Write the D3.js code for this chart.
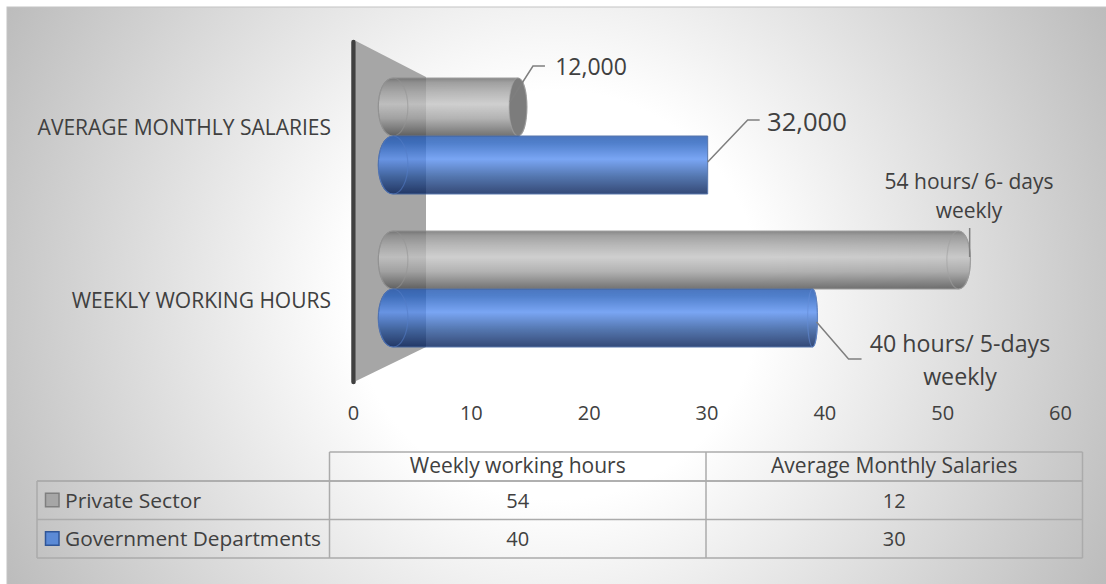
<!DOCTYPE html>
<html>
<head>
<meta charset="utf-8">
<script src="https://cdn.jsdelivr.net/npm/d3@7"></script>
<style>
  html, body { margin: 0; padding: 0; background: #fff; }
  svg { display: block; }
  text { font-family: "Open Sans", sans-serif; fill: #404040; }
</style>
</head>
<body>
<div id="chart"></div>
<script>
// chart data, top to bottom the way the picture stacks it
var categories = ["AVERAGE MONTHLY SALARIES", "WEEKLY WORKING HOURS"];
var tableColumns = ["Average Monthly Salaries", "Weekly working hours"];
var seriesNames = ["Private Sector", "Government Departments"];
var privateValues = [12, 54];
var governmentValues = [30, 40];
// where the 3D bars visibly end on the axis (perspective pushes them off the table values)
var privateDrawn = [14, 51.4];
var governmentDrawn = [30.1, 39];
var barStart = 3.4;
var privateLabels = [["12,000"], ["54 hours/ 6- days", "weekly"]];
var governmentLabels = [["32,000"], ["40 hours/ 5-days", "weekly"]];
var axisTicks = [0, 10, 20, 30, 40, 50, 60];

var width = 1106, height = 584;
var svg = d3.select("#chart").append("svg").attr("width", width).attr("height", height);
var defs = svg.append("defs");

// background
var bg = defs.append("radialGradient").attr("id", "bg")
  .attr("gradientUnits", "userSpaceOnUse")
  .attr("cx", 556).attr("cy", 295).attr("r", 620);
bg.append("stop").attr("offset", 0.33).attr("stop-color", "#ffffff");
bg.append("stop").attr("offset", 1).attr("stop-color", "#bcbcbc");
svg.append("rect").attr("x", 7).attr("y", 7).attr("width", width).attr("height", height)
  .attr("fill", "url(#bg)").attr("stroke", "#c4c4c4");

function barGradient(id, stops) {
  var g = defs.append("linearGradient").attr("id", id)
    .attr("x1", 0).attr("x2", 0).attr("y1", 0).attr("y2", 1);
  stops.forEach(function (s) {
    g.append("stop").attr("offset", s[0]).attr("stop-color", s[1]);
  });
}
barGradient("grayBar", [[0, "#6a6a6a"], [0.08, "#8a8a8a"], [0.25, "#a8a8a8"], [0.45, "#c4c4c4"], [0.7, "#a0a0a0"], [0.9, "#6a6a6a"], [1, "#505050"]]);
barGradient("blueBar", [[0, "#1f55b0"], [0.12, "#2560bf"], [0.4, "#5990f2"], [0.7, "#2a559c"], [0.92, "#0e2c68"], [1, "#001d59"]]);

// scales
var x = d3.scaleLinear().domain([0, 60]).range([353, 1060]);
var y = d3.scaleBand().domain(categories).range([59.5, 365.5]).paddingInner(0.242).paddingOuter(0.121);
var ySub = d3.scaleBand().domain(seriesNames).range([0, y.bandwidth()]);

// back wall and axis line
var wallPts = [[356, 41], [426, 77], [426, 347], [356, 381]];
svg.append("polygon").attr("points", wallPts.join(" ")).attr("fill", "#a6a6a6");
svg.append("line")
  .attr("x1", 353.5).attr("x2", 353.5).attr("y1", 42).attr("y2", 382)
  .attr("stroke", "#404040").attr("stroke-width", 4.5).attr("stroke-linecap", "round");

// axis
var axis = d3.axisBottom(x).tickValues(axisTicks).tickSize(0).tickPadding(0);
var axisG = svg.append("g").attr("transform", "translate(0,406)").call(axis);
axisG.select(".domain").remove();
axisG.selectAll("text").attr("font-size", 20).style("fill", "#404040");
axisG.attr("font-family", null);

// category labels, the 3D view shifts the lower one off its band centre
var catLabelShift = [-1, 19];
svg.selectAll("text.cat").data(categories).enter().append("text")
  .attr("class", "cat")
  .attr("x", 331)
  .attr("y", function (d, i) { return y(d) + y.bandwidth() / 2 + catLabelShift[i]; })
  .attr("text-anchor", "end")
  .attr("font-size", 21)
  .text(function (d) { return d; });

// lens width of the cylinder ends shrinks toward the view point
function lens(px) { return 0.047 * Math.abs(px - x(30.1)); }

function drawBars(name, drawn, gradient, edge, ring, capFill) {
  var g = svg.append("g");
  categories.forEach(function (cat, i) {
    var top = y(cat) + ySub(name);
    var h = ySub.bandwidth();
    var ry = h / 2;
    var xs = x(barStart), xe = x(drawn[i]);
    var rs = lens(xs), re = lens(xe);
    var body = d3.path();
    body.moveTo(xs, top);
    body.lineTo(xe, top);
    if (re > 0.5) {
      body.bezierCurveTo(xe + re * 1.33, top, xe + re * 1.33, top + h, xe, top + h);
    } else {
      body.lineTo(xe, top + h);
    }
    body.lineTo(xs, top + h);
    body.bezierCurveTo(xs - rs * 1.33, top + h, xs - rs * 1.33, top, xs, top);
    body.closePath();
    var bar = g.append("g").attr("opacity", 0.8);
    bar.append("path").attr("d", body.toString())
      .attr("fill", "url(#" + gradient + ")")
      .attr("stroke", edge).attr("stroke-width", 1);
    bar.append("ellipse")
      .attr("cx", xs).attr("cy", top + ry).attr("rx", rs).attr("ry", ry)
      .attr("fill", "none").attr("stroke", ring).attr("stroke-width", 1.2).attr("stroke-opacity", 0.55);
    if (re > 0.5) {
      bar.append("ellipse")
        .attr("cx", xe).attr("cy", top + ry).attr("rx", re).attr("ry", ry)
        .attr("fill", xe < x(30) ? capFill : "none")
        .attr("stroke", ring).attr("stroke-width", 1.2).attr("stroke-opacity", 0.55);
    }
  });
}
drawBars(seriesNames[0], privateDrawn, "grayBar", "#8a8a8a", "#8f8f8f", "#5c5c5c");
drawBars(seriesNames[1], governmentDrawn, "blueBar", "#2f5597", "#3f72d0", "#2f5597");

// data labels with their leader lines, offsets measured from each bar end
var labelLayout = [
  { series: 0, cat: 0, text: privateLabels[0], size: 23, lx: 591, ly: 75, gap: 0,
    leader: [[-8, -5], [15, -41], [27, -41]], key: privateDrawn[0] },
  { series: 1, cat: 0, text: governmentLabels[0], size: 25.6, lx: 807, ly: 131, gap: 0,
    leader: [[0, -3], [40, -45], [52, -45]], key: governmentDrawn[0] },
  { series: 0, cat: 1, text: privateLabels[1], size: 21, lx: 969, ly: 189, gap: 29,
    leader: [[11, -32], [11, -3]], key: privateDrawn[1] },
  { series: 1, cat: 1, text: governmentLabels[1], size: 23.2, lx: 960, ly: 352, gap: 33,
    leader: [[4, 4], [36, 41], [49, 41]], key: governmentDrawn[1] }
];
labelLayout.forEach(function (d) {
  var cat = categories[d.cat];
  var mid = y(cat) + ySub(seriesNames[d.series]) + ySub.bandwidth() / 2;
  var ax = x(d.key);
  var line = d3.line()
    .x(function (p) { return ax + p[0]; })
    .y(function (p) { return mid + p[1]; });
  svg.append("path").attr("d", line(d.leader))
    .attr("fill", "none").attr("stroke", "#7f7f7f").attr("stroke-width", 1.5);
  d.text.forEach(function (t, i) {
    svg.append("text")
      .attr("x", d.lx).attr("y", d.ly + i * d.gap)
      .attr("text-anchor", "middle")
      .attr("font-size", d.size)
      .text(t);
  });
});

// data table, columns run the other way round from the bars
var colX = d3.scaleBand().domain(tableColumns.slice().reverse()).range([329.5, 1082.5]);
var rowY = d3.scaleBand().domain(seriesNames).range([481, 558]);
var tableTop = 452;
var grid = svg.append("g").attr("fill", "none").attr("stroke", "#ababab").attr("stroke-width", 1.5);
grid.append("path").attr("stroke-linejoin", "round").attr("d",
  "M37," + rowY.range()[0] + "H" + colX.range()[1] +
  "M37," + rowY.range()[1] + "H" + colX.range()[1] +
  "M37," + rowY.range()[0] + "V" + rowY.range()[1]);
grid.append("path").attr("d", "M" + colX.range()[0] + "," + tableTop + "H" + colX.range()[1]);
seriesNames.forEach(function (s) {
  grid.append("path").attr("d", "M37," + rowY(s) + "H" + colX.range()[1]);
});
colX.domain().forEach(function (c) {
  grid.append("path").attr("d", "M" + colX(c) + "," + tableTop + "V" + rowY.range()[1]);
});
grid.append("path").attr("d", "M" + colX.range()[1] + "," + tableTop + "V" + rowY.range()[1]);

svg.selectAll("text.head").data(tableColumns).enter().append("text")
  .attr("class", "head")
  .attr("x", function (c) { return colX(c) + colX.bandwidth() / 2; })
  .attr("y", tableTop + 21)
  .attr("text-anchor", "middle")
  .attr("font-size", 21)
  .text(function (c) { return c; });

var keyFill = ["#a6a6a6", "#5b8ad6"];
var keyEdge = ["#7f7f7f", "#2f5597"];
var rowValues = [privateValues, governmentValues];
seriesNames.forEach(function (s, r) {
  var cy = rowY(s) + rowY.bandwidth() / 2;
  svg.append("rect")
    .attr("x", 45.5).attr("y", cy - 7).attr("width", 13.5).attr("height", 13.5)
    .attr("fill", keyFill[r]).attr("stroke", keyEdge[r]).attr("stroke-width", 1.5);
  svg.append("text")
    .attr("x", 65).attr("y", cy + 7.5)
    .attr("font-size", 20.5)
    .attr("textLength", r === 0 ? 136 : 256)
    .attr("lengthAdjust", "spacingAndGlyphs")
    .text(s);
  tableColumns.forEach(function (c, i) {
    svg.append("text")
      .attr("x", colX(c) + colX.bandwidth() / 2)
      .attr("y", cy + 7.5)
      .attr("text-anchor", "middle")
      .attr("font-size", 20)
      .text(rowValues[r][i]);
  });
});
</script>
</body>
</html>
